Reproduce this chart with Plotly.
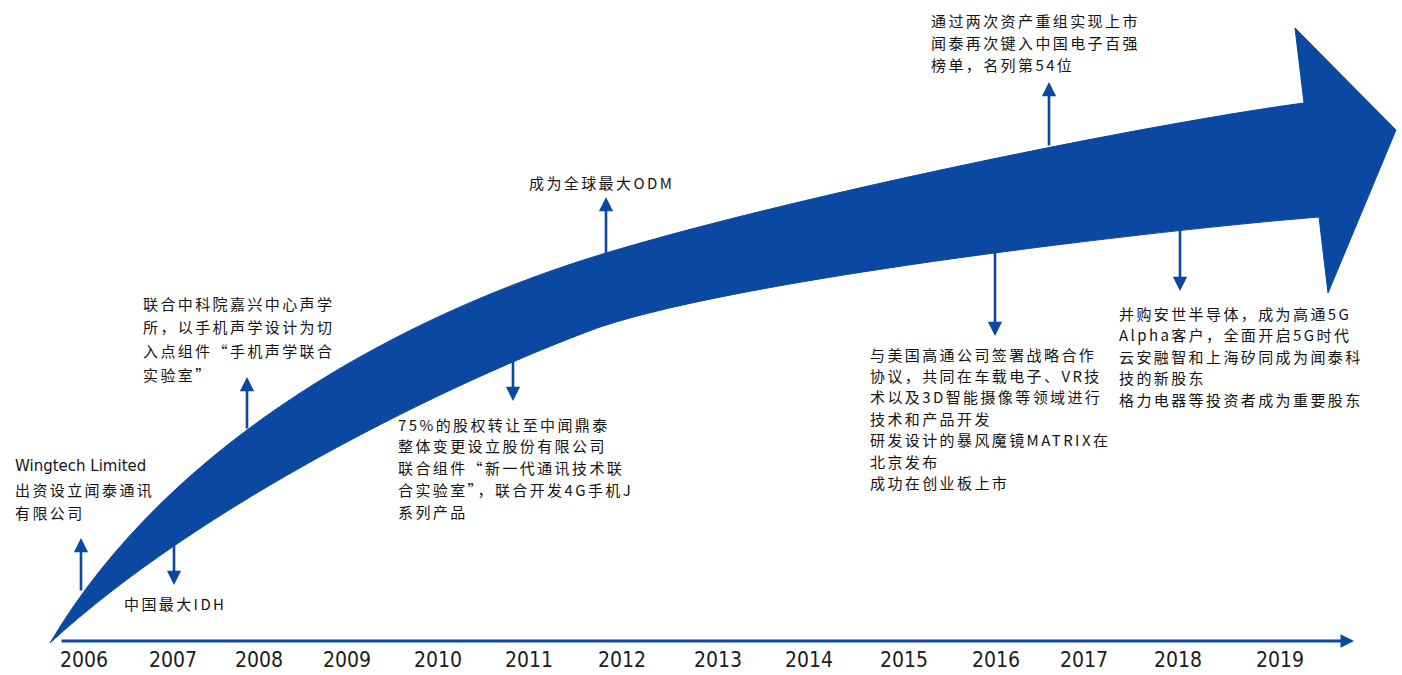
import plotly.graph_objects as go

# ---------------- data ----------------
years = [2006, 2007, 2008, 2009, 2010, 2011, 2012, 2013, 2014, 2015, 2016, 2017, 2018, 2019]

event_years = [2006, 2007, 2008, 2011, 2012, 2016, 2017, 2018]
event_dirs = ["up", "down", "up", "down", "up", "down", "up", "down"]
event_texts = [
    ["Wingtech Limited", "出资设立闻泰通讯", "有限公司"],
    ["中国最大IDH"],
    ["联合中科院嘉兴中心声学", "所，以手机声学设计为切", "入点组件“手机声学联合", "实验室”"],
    ["75%的股权转让至中闻鼎泰", "整体变更设立股份有限公司", "联合组件“新一代通讯技术联",
     "合实验室”，联合开发4G手机J", "系列产品"],
    ["成为全球最大ODM"],
    ["与美国高通公司签署战略合作", "协议，共同在车载电子、VR技", "术以及3D智能摄像等领域进行",
     "技术和产品开发", "研发设计的暴风魔镜MATRIX在", "北京发布", "成功在创业板上市"],
    ["通过两次资产重组实现上市", "闻泰再次键入中国电子百强", "榜单，名列第54位"],
    ["并购安世半导体，成为高通5G", "Alpha客户，全面开启5G时代", "云安融智和上海矽同成为闻泰科",
     "技的新股东", "格力电器等投资者成为重要股东"],
]

# ---------------- layout (positions / styles) ----------------
W, H = 1402, 675
BLUE = "#0A48A2"
TXT = "#141414"
year_px = [84, 173, 259, 347, 438, 529, 622, 718, 809, 904, 996, 1084, 1178, 1280]
year_py = 662
# arrow: x, y at band edge, y at arrow head
arrow_pos = [(81, 592, 538), (174, 536, 585), (247, 430, 377), (513, 358, 401),
             (606, 255, 197), (995, 243, 336), (1049, 147, 82), (1180, 226, 291)]
# text blocks: left x, first line centre y, line pitch
text_pos = [(14, 466, 23), (123, 603, 22), (142, 303, 23.7), (397, 424, 21.8),
            (528, 182, 22), (869, 354, 21.4), (930, 20, 22), (1118, 313, 21.6)]
CJK_SIZE = 15
CJK_SPACING = 2.4   # px of extra letter spacing (reference uses a wide Song face)

fig = go.Figure()

# year labels as a text trace
fig.add_trace(go.Scatter(
    x=year_px, y=[year_py] * len(years), mode="text",
    text=[str(y) for y in years],
    textfont=dict(family="Liberation Sans Narrow, DejaVu Sans Condensed, sans-serif",
                  size=21, color="#1c1c1c"),
    hoverinfo="skip", showlegend=False, cliponaxis=False))

# big curved arrow
path = ("M 50,643 "
        "C 170,440 406,313 606,253 "
        "C 806,193 1154,123 1304,103 "
        "L 1295,28 L 1396,130 L 1328,293 L 1319,217 "
        "C 1169,229 750,277 600,327 "
        "C 450,382 200,505 50,643 Z")
fig.add_shape(type="path", path=path, xref="x", yref="y",
              fillcolor=BLUE, line=dict(color=BLUE, width=1), layer="below")

annotations = []
# timeline axis arrow
annotations.append(dict(x=1354, y=641, ax=60, ay=641, xref="x", yref="y",
                        axref="x", ayref="y", text="", showarrow=True,
                        arrowhead=2, arrowsize=0.9, arrowwidth=3, arrowcolor=BLUE,
                        standoff=0, startstandoff=0))

# event arrows
for (ex, y0, y1), d in zip(arrow_pos, event_dirs):
    annotations.append(dict(x=ex, y=y1, ax=ex, ay=y0, xref="x", yref="y",
                            axref="x", ayref="y", text="", showarrow=True,
                            arrowhead=2, arrowsize=1.1, arrowwidth=2.6,
                            arrowcolor=BLUE, standoff=0, startstandoff=0))

# event texts, one annotation per line
for lines, (tx, ty, pitch) in zip(event_texts, text_pos):
    for i, line in enumerate(lines):
        if all(ord(c) < 128 for c in line):
            txt = line
            font = dict(family="DejaVu Sans, sans-serif", size=15, color=TXT)
        else:
            txt = '<span style="letter-spacing:%.1fpx">%s</span>' % (CJK_SPACING, line)
            font = dict(family="Noto Sans CJK SC, sans-serif", size=CJK_SIZE, color=TXT)
        annotations.append(dict(x=tx, y=ty + i * pitch, xref="x", yref="y",
                                text=txt, showarrow=False, xanchor="left",
                                yanchor="middle", borderpad=0, font=font))

fig.update_layout(
    width=W, height=H,
    margin=dict(l=0, r=0, t=0, b=0),
    paper_bgcolor="white", plot_bgcolor="white",
    xaxis=dict(range=[0, W], visible=False, fixedrange=True),
    yaxis=dict(range=[H, 0], visible=False, fixedrange=True),
    annotations=annotations,
    showlegend=False,
)

fig.write_html("out.html")
